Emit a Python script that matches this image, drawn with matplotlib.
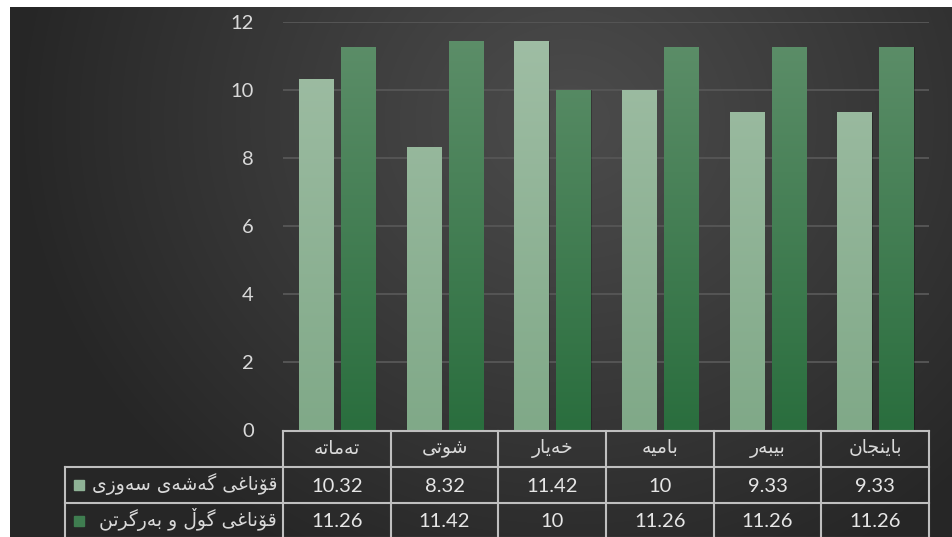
import numpy as np
import matplotlib
matplotlib.use('Agg')
import matplotlib.pyplot as plt
from matplotlib.colors import LinearSegmentedColormap

# data
categories = ['تەماتە', 'شوتی', 'خەیار', 'بامیە', 'بیبەر', 'باینجان']
series_names = ['قۆناغی گەشەی سەوزی', 'قۆناغی گوڵ و بەرگرتن']
vegetative = [10.32, 8.32, 11.42, 10, 9.33, 9.33]
flowering = [11.26, 11.42, 10, 11.26, 11.26, 11.26]
yticks = [0, 2, 4, 6, 8, 10, 12]

# --- simple arabic shaping (matplotlib has no bidi / joining) ---
FORMS = {  # isol, fin, init, med
    'ا': ('\uFE8D', '\uFE8E', None, None),
    'ب': ('\uFE8F', '\uFE90', '\uFE91', '\uFE92'),
    'ت': ('\uFE95', '\uFE96', '\uFE97', '\uFE98'),
    'ج': ('\uFE9D', '\uFE9E', '\uFE9F', '\uFEA0'),
    'خ': ('\uFEA5', '\uFEA6', '\uFEA7', '\uFEA8'),
    'ر': ('\uFEAD', '\uFEAE', None, None),
    'ز': ('\uFEAF', '\uFEB0', None, None),
    'س': ('\uFEB1', '\uFEB2', '\uFEB3', '\uFEB4'),
    'ش': ('\uFEB5', '\uFEB6', '\uFEB7', '\uFEB8'),
    'غ': ('\uFECD', '\uFECE', '\uFECF', '\uFED0'),
    'ق': ('\uFED5', '\uFED6', '\uFED7', '\uFED8'),
    'ل': ('\uFEDD', '\uFEDE', '\uFEDF', '\uFEE0'),
    'م': ('\uFEE1', '\uFEE2', '\uFEE3', '\uFEE4'),
    'ن': ('\uFEE5', '\uFEE6', '\uFEE7', '\uFEE8'),
    'ه': ('\uFEE9', '\uFEEA', '\uFEEB', '\uFEEC'),
    'و': ('\uFEED', '\uFEEE', None, None),
    'گ': ('\uFB92', '\uFB93', '\uFB94', '\uFB95'),
    'ی': ('\uFBFC', '\uFBFD', '\uFBFE', '\uFBFF'),
    'ۆ': ('\uFBD9', '\uFBDA', None, None),
    'ە': ('\uFEE9', '\uFEEA', None, None),
    'ڵ': ('\u06B5', '\u06B5', '\u06B5', '\u06B5'),
}


def dual(c):
    return c in FORMS and FORMS[c][2] is not None


def shape(text):
    out = []
    for i, c in enumerate(text):
        if c not in FORMS:
            out.append(c)
            continue
        prev_j = i > 0 and dual(text[i - 1])
        next_j = dual(c) and i + 1 < len(text) and text[i + 1] in FORMS
        f = FORMS[c]
        if prev_j and next_j:
            out.append(f[3])
        elif prev_j:
            out.append(f[1])
        elif next_j:
            out.append(f[2])
        else:
            out.append(f[0])
    return ''.join(out[::-1])


W, H = 952, 537
fig = plt.figure(figsize=(W / 100, H / 100), dpi=100)
fig.patch.set_facecolor('white')

# background with radial gradient
bg = fig.add_axes([10 / W, 0, 1 - 10 / W, 1 - 7 / H])
yy, xx = np.mgrid[7:H, 10:W]
r = np.sqrt(((xx - 570) / 1.0) ** 2 + ((yy - 120) / 0.9) ** 2)
t = np.clip(r / 560, 0, 1)
c0, c1 = np.array([0x4b, 0x4b, 0x4b]), np.array([0x26, 0x26, 0x26])
img = (c0 + (c1 - c0) * t[..., None] ** 1.1) / 255
bg.imshow(img, aspect='auto', interpolation='bilinear')
bg.axis('off')

# main axes
x0, x1, ytop, y0 = 283, 929, 22, 430
ax = fig.add_axes([x0 / W, (H - y0) / H, (x1 - x0) / W, (y0 - ytop) / H])
ax.patch.set_alpha(0)
for s in ax.spines.values():
    s.set_visible(False)
ax.set_xticks([])
ax.set_yticks(yticks)
ax.set_yticklabels([str(v) for v in yticks], color='#d9d9d9', fontsize=14.5, family='Lato')
ax.tick_params(axis='y', length=0, pad=21)
for v in yticks[1:]:
    ax.axhline(v, color='#555555', lw=1.4, zorder=1)

cmap_light = LinearSegmentedColormap.from_list('l', ['#80a988', '#a0bea5'])
cmap_dark = LinearSegmentedColormap.from_list('d', ['#2a6e3e', '#5e8f6a'])
bw = 0.316
grad = np.linspace(0, 1, 200)[::-1].reshape(-1, 1)
for i in range(len(categories)):
    for off, val, cm in [(0.306, vegetative[i], cmap_light), (0.696, flowering[i], cmap_dark)]:
        left = i + off - bw / 2
        # shadow
        ax.bar(left + bw / 2 + 0.012, val, bw, bottom=0, color='black', alpha=0.25, zorder=2)
        g = grad[int(200 * (1 - val / 12)):]
        ax.imshow(g, extent=[left, left + bw, 0, val], aspect='auto', cmap=cm,
                  vmin=0, vmax=1, zorder=3, interpolation='bilinear')
ax.set_xlim(0, len(categories))
ax.set_ylim(0, 12)

# data table drawn in figure pixels
tab = fig.add_axes([0, 0, 1, 1])
tab.set_xlim(0, W)
tab.set_ylim(H, 0)
tab.axis('off')
tab.patch.set_alpha(0)
lc = '#bfbfbf'
lw = 1.5
col_x = np.linspace(x0, x1, len(categories) + 1)
row_y = [431, 467, 503, 538]
lab_x = 65
tab.plot([x0, x1], [row_y[0], row_y[0]], color=lc, lw=lw)
for yv in row_y[1:]:
    tab.plot([lab_x, x1], [yv, yv], color=lc, lw=lw)
for xv in col_x:
    tab.plot([xv, xv], [row_y[0], row_y[3]], color=lc, lw=lw)
tab.plot([lab_x, lab_x], [row_y[1], row_y[3]], color=lc, lw=lw)

for i, c in enumerate(categories):
    xc = (col_x[i] + col_x[i + 1]) / 2
    tab.text(xc, (row_y[0] + row_y[1]) / 2 - 1, shape(c), ha='center', va='center',
             color='#d9d9d9', fontsize=13.5, family='DejaVu Sans')
    tab.text(xc, (row_y[1] + row_y[2]) / 2 + 1, f'{vegetative[i]:g}', ha='center', va='center',
             color='#e6e6e6', fontsize=14.5, family='Lato')
    tab.text(xc, (row_y[2] + row_y[3]) / 2 + 1, f'{flowering[i]:g}', ha='center', va='center',
             color='#e6e6e6', fontsize=14.5, family='Lato')

key_colors = ['#8fb296', '#3f7d50']
for k, name in enumerate(series_names):
    yc = (row_y[k + 1] + row_y[k + 2]) / 2
    tab.add_patch(plt.Rectangle((74, yc - 5), 10, 10, color=key_colors[k]))
    tab.text(277, yc - 1, shape(name), ha='right', va='center', color='#d9d9d9',
             fontsize=13.5, family='DejaVu Sans')

fig.savefig('out.png', dpi=100)
